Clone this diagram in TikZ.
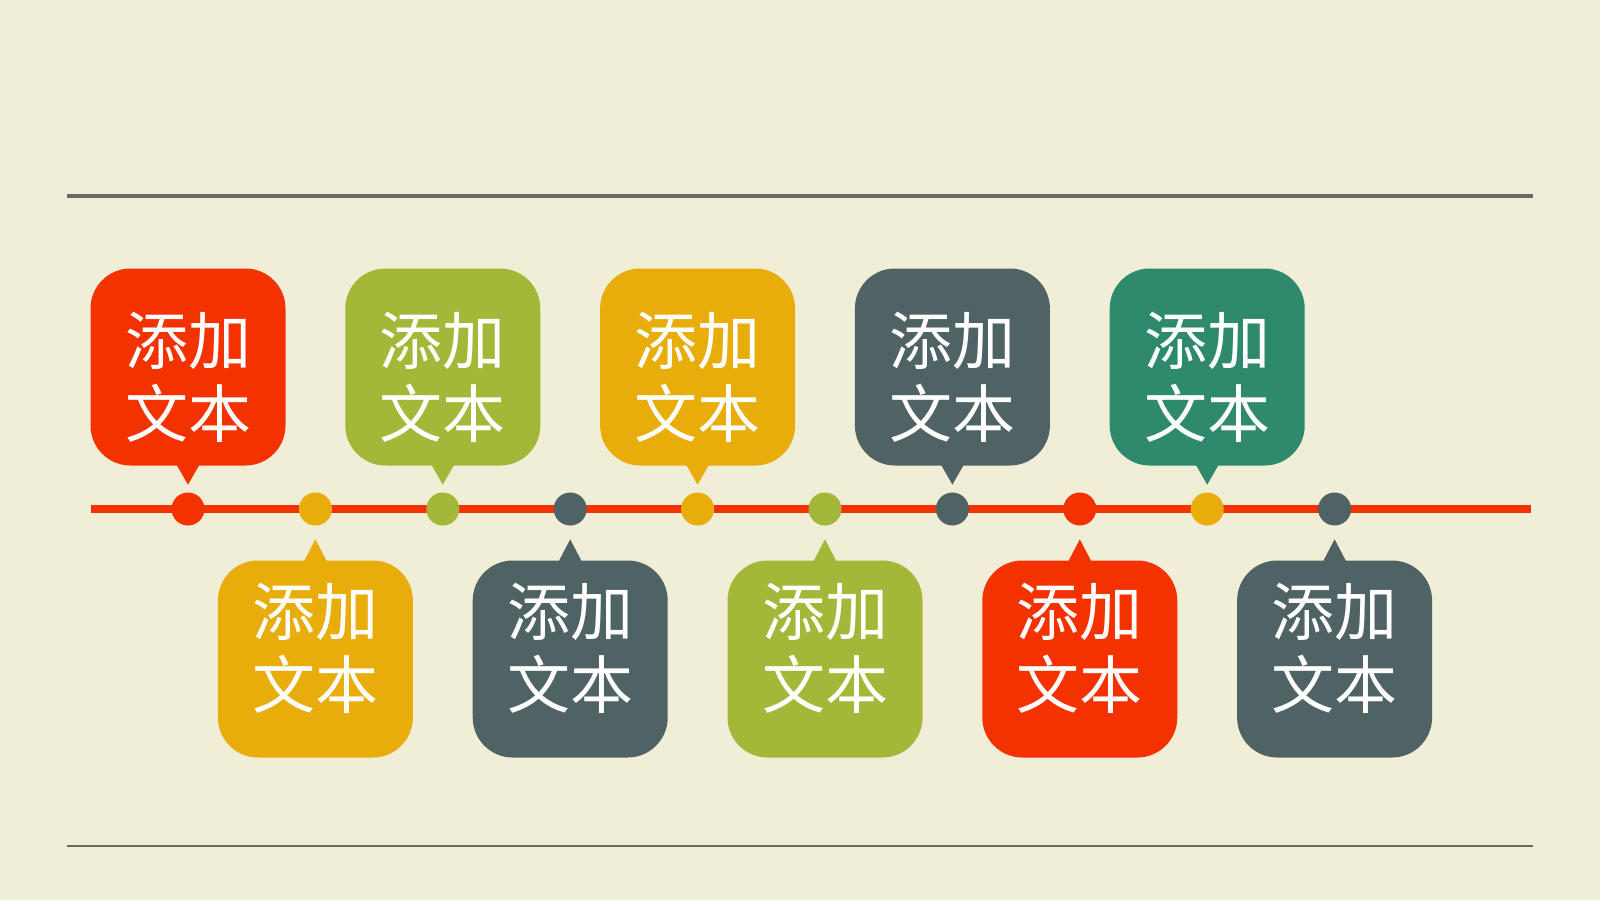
\documentclass[tikz,border=0pt]{standalone}
\usepackage{fontspec}
\newfontfamily\cjk{Noto Sans CJK SC}
\usetikzlibrary{calc}
\definecolor{bg}{HTML}{F1EED8}
\definecolor{cR}{HTML}{F43200}
\definecolor{cY}{HTML}{E8AD0B}
\definecolor{cG}{HTML}{A3B838}
\definecolor{cS}{HTML}{4F6264}
\definecolor{cT}{HTML}{2F8A6D}
\definecolor{topline}{HTML}{6A6A66}
\definecolor{botline}{HTML}{6E6B55}
\begin{document}
\begin{tikzpicture}[x=1pt,y=-1pt,
  bubble/.style={rectangle, rounded corners=40pt, minimum width=195pt, minimum height=197pt, inner sep=0pt},
  btext/.style={font=\cjk\fontsize{63}{73}\selectfont, text=white, align=center, inner sep=0pt},
  dotnode/.style={circle, minimum size=33pt, inner sep=0pt}]
\useasboundingbox[fill=bg] (0,0) rectangle (1600,900);
% rules
\coordinate (tl) at (67,196);
\coordinate (tr) at (1533,196);
\coordinate (bl) at (67,846);
\coordinate (br) at (1533,846);
\draw[topline, line width=4pt] (tl) -- (tr);
\draw[botline, line width=2.5pt] (bl) -- (br);
% timeline
\coordinate (L) at (91,509);
\coordinate (R) at (1531,509);
\draw[cR, line width=8.5pt] (L) -- (R);
% dots and bubbles
\def\up{up}
\foreach \i/\dc/\bc/\pos in {0/cR/cR/up,1/cY/cY/down,2/cG/cG/up,3/cS/cS/down,4/cY/cY/up,5/cG/cG/down,6/cS/cS/up,7/cR/cR/down,8/cY/cT/up,9/cS/cS/down}{
  \pgfmathsetmacro{\xx}{188+127.4*\i}
  \node[dotnode, fill=\dc] (d\i) at (\xx,509) {};
  \edef\tmp{\pos}
  \ifx\tmp\up
    \node[bubble, fill=\bc] (b\i) at (\xx,367) {};
    \fill[\bc] ($(b\i.south)+(-12,-2)$) -- ($(b\i.south)+(12,-2)$) -- ($(b\i.south)+(0,19)$) -- cycle;
    \node[btext] (t\i) at (\xx,377) {添加\\文本};
  \else
    \node[bubble, fill=\bc] (b\i) at (\xx,659) {};
    \fill[\bc] ($(b\i.north)+(-12,2)$) -- ($(b\i.north)+(12,2)$) -- ($(b\i.north)+(0,-21)$) -- cycle;
    \node[btext] (t\i) at (\xx,648) {添加\\文本};
  \fi
}
\end{tikzpicture}
\end{document}
